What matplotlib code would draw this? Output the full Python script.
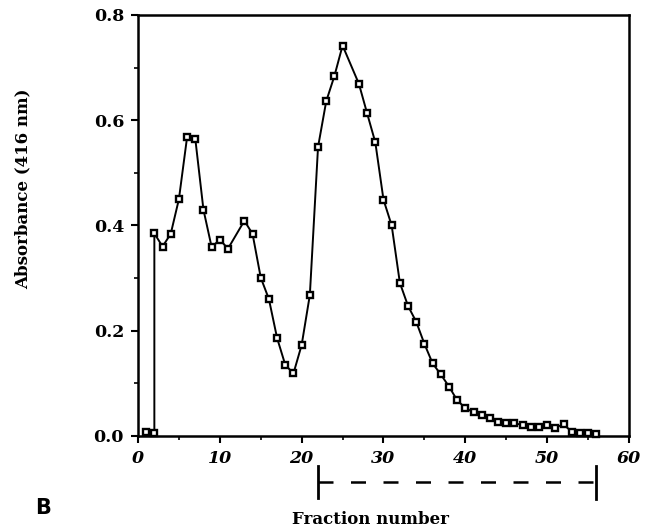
import numpy as np
import matplotlib
matplotlib.use("Agg")
import matplotlib.pyplot as plt
import matplotlib.transforms as mtransforms

# fraction number and absorbance at 416 nm
fraction = [1, 2, 2, 3, 4, 5, 6, 7, 8, 9, 10, 11, 13, 14, 15, 16, 17, 18, 19, 20,
            21, 22, 23, 24, 25, 27, 28, 29, 30, 31, 32, 33, 34, 35, 36, 37, 38, 39,
            40, 41, 42, 43, 44, 45, 46, 47, 48, 49, 50, 51, 52, 53, 54, 55, 56]
absorbance = [0.008, 0.005, 0.385, 0.360, 0.384, 0.450, 0.568, 0.565, 0.430, 0.359,
              0.373, 0.356, 0.409, 0.384, 0.301, 0.260, 0.186, 0.135, 0.119, 0.173,
              0.268, 0.549, 0.636, 0.684, 0.742, 0.669, 0.613, 0.558, 0.449, 0.400,
              0.291, 0.247, 0.217, 0.175, 0.138, 0.117, 0.094, 0.068, 0.053, 0.045,
              0.040, 0.034, 0.027, 0.025, 0.024, 0.021, 0.018, 0.018, 0.021, 0.016,
              0.022, 0.008, 0.006, 0.005, 0.004]

# pooled fractions shown by the bracket under the axis
pool_start, pool_end = 22, 56

fig = plt.figure(figsize=(6.46, 5.30), dpi=100)
ax = fig.add_axes([0.2136, 0.1774, 0.7601, 0.7943])

ax.plot(fraction, absorbance, color="black", lw=1.4, marker="s", markersize=4.8,
        markerfacecolor="white", markeredgecolor="black", markeredgewidth=1.7,
        clip_on=False, zorder=3)

ax.set_xlim(0, 60)
ax.set_ylim(0, 0.8)
ax.set_xticks(np.arange(0, 61, 10))
ax.set_xticks(np.arange(5, 60, 10), minor=True)
ax.set_yticks(np.arange(0, 0.81, 0.2))
ax.set_yticks(np.arange(0.1, 0.8, 0.2), minor=True)
ax.set_yticklabels(["0.0", "0.2", "0.4", "0.6", "0.8"])

for s in ax.spines.values():
    s.set_linewidth(1.8)

ax.tick_params(which="major", direction="out", length=5, width=1.5, pad=5)
ax.tick_params(which="minor", direction="out", length=3, width=1.2)
for lab in ax.get_xticklabels():
    lab.set_fontfamily("DejaVu Serif")
    lab.set_fontweight("bold")
    lab.set_fontstyle("italic")
    lab.set_fontsize(12.5)
for lab in ax.get_yticklabels():
    lab.set_fontfamily("DejaVu Serif")
    lab.set_fontweight("bold")
    lab.set_fontsize(12.5)

# bracket marking the pooled fractions
trans = mtransforms.blended_transform_factory(ax.transData, ax.transAxes)
ax.plot([pool_start, pool_start], [-0.071, -0.147], color="black", lw=2,
        transform=trans, clip_on=False)
ax.plot([pool_end, pool_end], [-0.071, -0.150], color="black", lw=2,
        transform=trans, clip_on=False)
ax.plot([pool_start, pool_end], [-0.109, -0.109], color="black", lw=1.8,
        linestyle=(0, (6, 7)), transform=trans, clip_on=False)

fig.text(0.036, 0.643, "Absorbance (416 nm)", ha="center", va="center", rotation=90,
         fontfamily="DejaVu Serif", fontweight="bold", fontsize=12)
fig.text(0.573, 0.019, "Fraction number", ha="center", va="center",
         fontfamily="DejaVu Serif", fontweight="bold", fontsize=12)
fig.text(0.067, 0.042, "B", ha="center", va="center",
         fontfamily="DejaVu Sans", fontweight="bold", fontsize=15)

fig.savefig("out.png", dpi=100)
